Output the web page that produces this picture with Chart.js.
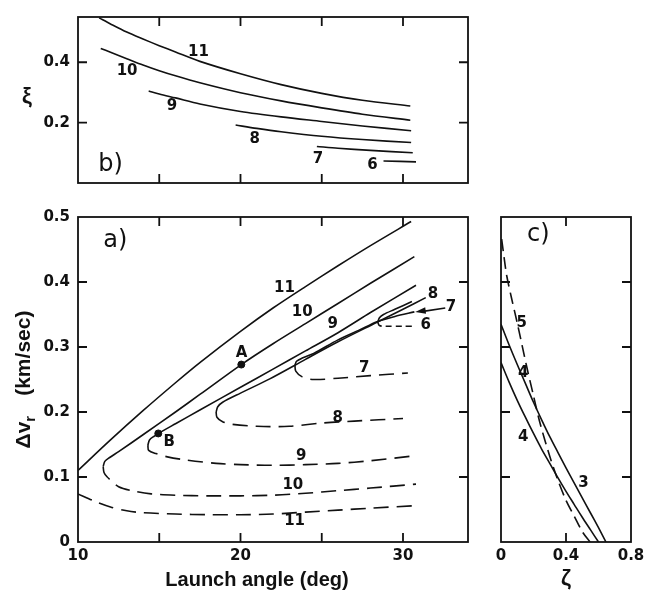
<!DOCTYPE html>
<html lang="en">
<head>
    <meta charset="UTF-8">
    <title>Launch angle contours</title>
    <script src="https://cdn.jsdelivr.net/npm/chart.js"></script>
    <style>
        body { margin: 0; background: #fff; }
        #wrap { position: relative; width: 657px; height: 596px; background: #fff; }
        #wrap canvas { position: absolute; }
    </style>
</head>
<body>
<div id="wrap">
    <canvas id="chartB" width="480" height="200" style="left:0;top:0;width:480px;height:200px"></canvas>
    <canvas id="chartA" width="480" height="396" style="left:0;top:200px;width:480px;height:396px"></canvas>
    <canvas id="chartC" width="177" height="396" style="left:480px;top:200px;width:177px;height:396px"></canvas>
</div>

<script>
    // axes / ticks
    const angleTicks = [10, 20, 30];
    const angleMarks = [15, 20, 25, 30];
    const dvTicks = [0, 0.1, 0.2, 0.3, 0.4, 0.5];
    const dvMarks = [0.1, 0.2, 0.3, 0.4];
    const xiTicks = [0.2, 0.4];
    const zetaTicks = [0, 0.4, 0.8];
    const zetaMarks = [0.4];

    // panel a) : [launch angle, dv_r]  solid = upper branch, dashed = lower branch
    const a11Solid = [[10,0.11],[12,0.157],[14,0.202],[16,0.245],[17.5,0.276],[20,0.324],[22,0.36],[24,0.393],[26,0.425],[28,0.456],[30.5,0.493]];
    const a11Dash  = [[10,0.074],[11,0.063],[12,0.054],[13,0.048],[14,0.045],[16,0.043],[18,0.042],[20,0.042],[22,0.043],[24,0.046],[26,0.049],[28,0.052],[30.8,0.056]];
    const a10Solid = [[11.55,0.116],[11.65,0.124],[11.95,0.13],[12.5,0.139],[14,0.165],[16,0.2],[17.5,0.227],[20.05,0.273],[22,0.305],[24,0.336],[26,0.367],[28,0.398],[30.7,0.439]];
    const a10Dash  = [[11.55,0.116],[11.6,0.107],[11.8,0.1],[12.5,0.085],[13.5,0.078],[14.5,0.074],[16,0.072],[18,0.071],[20,0.071],[22,0.072],[24,0.075],[26,0.079],[28,0.083],[30.8,0.089]];
    const a9Solid  = [[14.3,0.149],[14.4,0.157],[14.7,0.163],[14.94,0.167],[16,0.182],[17.5,0.203],[20,0.238],[22,0.266],[24,0.294],[26,0.322],[28,0.353],[30.8,0.395]];
    const a9Dash   = [[14.3,0.149],[14.35,0.141],[14.8,0.136],[15.5,0.131],[16.7,0.126],[18.5,0.121],[20,0.119],[22,0.118],[24,0.119],[26,0.121],[28,0.125],[30.5,0.132]];
    const a8Solid  = [[18.5,0.2],[18.6,0.208],[18.9,0.215],[20,0.229],[21.8,0.251],[24,0.281],[26,0.308],[28.4,0.338],[30,0.358],[31.4,0.376]];
    const a8Dash   = [[18.5,0.2],[18.55,0.192],[18.9,0.185],[19.5,0.181],[21,0.178],[23,0.178],[25,0.183],[27,0.186],[30,0.19]];
    const a7Solid  = [[23.35,0.272],[23.45,0.278],[23.8,0.283],[24.5,0.29],[26,0.311],[27.3,0.326],[28.4,0.339],[29.5,0.347],[30.7,0.354]];
    const a7Dash   = [[23.35,0.272],[23.4,0.263],[23.8,0.254],[24.5,0.25],[26,0.252],[28,0.256],[30.3,0.26]];
    const a6Solid  = [[28.45,0.338],[28.55,0.345],[28.8,0.35],[29.5,0.358],[30.55,0.37]];
    const a6Dash   = [[28.45,0.338],[28.55,0.333],[28.9,0.332],[30,0.332],[30.75,0.332]];
    const pointA = [[20.05,0.273]];
    const pointB = [[14.94,0.167]];

    // panel b) : [launch angle, xi]
    const b11 = [[11.3,0.547],[12,0.527],[13,0.5],[14,0.477],[15,0.455],[16,0.434],[17.5,0.403],[20,0.362],[22.5,0.326],[25,0.297],[27.5,0.274],[30.45,0.255]];
    const b10 = [[11.4,0.446],[12,0.433],[13,0.412],[14,0.391],[15,0.372],[16,0.355],[17.5,0.332],[20,0.299],[22.5,0.272],[25,0.249],[27.5,0.228],[30.45,0.208]];
    const b9  = [[14.35,0.305],[15,0.295],[16,0.282],[17.5,0.262],[20,0.237],[22.5,0.219],[25,0.204],[27.5,0.189],[30.5,0.173]];
    const b8  = [[19.7,0.192],[21,0.181],[22.5,0.17],[25,0.155],[27.5,0.144],[30.5,0.134]];
    const b7  = [[24.7,0.121],[26,0.115],[28,0.108],[30.6,0.1]];
    const b6  = [[28.8,0.073],[30.8,0.07]];

    // panel c) : [zeta, dv_r]
    const c3Solid = [[0,0.335],[0.05,0.303],[0.1,0.273],[0.15,0.244],[0.2,0.215],[0.25,0.188],[0.3,0.162],[0.35,0.138],[0.4,0.114],[0.45,0.091],[0.5,0.068],[0.55,0.045],[0.6,0.022],[0.646,0]];
    const c4Solid = [[0,0.276],[0.05,0.246],[0.1,0.218],[0.15,0.192],[0.2,0.167],[0.25,0.143],[0.3,0.121],[0.35,0.099],[0.4,0.078],[0.45,0.058],[0.5,0.038],[0.55,0.019],[0.6,0]];
    const c5Dash  = [[0.004,0.466],[0.02,0.436],[0.035,0.41],[0.065,0.375],[0.1,0.337],[0.158,0.27],[0.2,0.225],[0.24,0.183],[0.3,0.132],[0.343,0.1],[0.4,0.064],[0.45,0.04],[0.5,0.016],[0.548,0]];

    // curve labels (placed in data units)
    const labelsA = [
        ['11', 22.7, 0.391], ['10', 23.8, 0.353], ['9', 25.67, 0.335],
        ['8', 31.85, 0.382], ['7', 32.95, 0.362], ['6', 31.4, 0.334],
        ['7', 27.61, 0.268], ['8', 25.98, 0.191], ['9', 23.73, 0.132],
        ['10', 23.22, 0.088], ['11', 23.33, 0.032],
        ['A', 20.06, 0.29], ['B', 15.61, 0.154]
    ];
    const labelsB = [
        ['11', 17.41, 0.434], ['10', 13.02, 0.372], ['9', 15.78, 0.254],
        ['8', 20.88, 0.145], ['7', 24.76, 0.078], ['6', 28.12, 0.058]
    ];
    const labelsC = [
        ['5', 0.127, 0.336], ['4', 0.137, 0.26], ['4', 0.137, 0.162], ['3', 0.507, 0.09]
    ];
    const arrow7 = [[32.6, 0.36], [30.75, 0.354]];

    const ink = '#111';
    const tickFont = { family: 'DejaVu Sans', size: 15, weight: 'bold' };
    const curveFont = 'bold 15px "DejaVu Sans"';
    const panelFont = '24px "DejaVu Sans"';
    const titleFont = 'bold 20px "Liberation Sans"';

    const pts = arr => arr.map(p => ({ x: p[0], y: p[1] }));
    const curve = (arr, dash) => ({
        data: pts(arr),
        borderColor: ink,
        borderWidth: 1.6,
        borderDash: dash || [],
        pointRadius: 0,
        tension: 0.3,
        fill: false
    });
    const dot = arr => ({
        data: pts(arr),
        showLine: false,
        pointRadius: 3.5,
        pointBackgroundColor: ink,
        pointBorderColor: ink
    });
    const fmt = v => v === 0 ? '0' : v.toFixed(1);

    // frame, inward tick marks, labels, titles
    function makeFrame(cfg) {
        return {
            id: 'frame',
            afterDatasetsDraw(chart) {
                const { ctx, chartArea: a } = chart;
                const xs = chart.scales.x, ys = chart.scales.y;
                ctx.save();
                ctx.strokeStyle = ink;
                ctx.lineWidth = 1.8;
                ctx.strokeRect(a.left, a.top, a.right - a.left, a.bottom - a.top);
                ctx.beginPath();
                cfg.xMarks.forEach(v => {
                    const p = xs.getPixelForValue(v);
                    ctx.moveTo(p, a.top); ctx.lineTo(p, a.top + 9);
                    ctx.moveTo(p, a.bottom); ctx.lineTo(p, a.bottom - 9);
                });
                cfg.yMarks.forEach(v => {
                    const p = ys.getPixelForValue(v);
                    ctx.moveTo(a.left, p); ctx.lineTo(a.left + 9, p);
                    ctx.moveTo(a.right, p); ctx.lineTo(a.right - 9, p);
                });
                ctx.stroke();

                ctx.fillStyle = ink;
                ctx.textAlign = 'center';
                ctx.textBaseline = 'middle';
                ctx.font = curveFont;
                cfg.labels.forEach(l => ctx.fillText(l[0], xs.getPixelForValue(l[1]), ys.getPixelForValue(l[2])));

                ctx.font = panelFont;
                ctx.fillText(cfg.panel[0], xs.getPixelForValue(cfg.panel[1]), ys.getPixelForValue(cfg.panel[2]));

                if (cfg.draw) cfg.draw(ctx, a, xs, ys);
                ctx.restore();
            }
        };
    }

    const common = {
        responsive: false,
        animation: false,
        events: [],
        plugins: { legend: { display: false }, tooltip: { enabled: false } }
    };

    // ---- panel b
    new Chart(document.getElementById('chartB'), {
        type: 'line',
        data: { datasets: [curve(b11), curve(b10), curve(b9), curve(b8), curve(b7), curve(b6)] },
        options: {
            ...common,
            layout: { padding: { top: 6, right: 12, left: 0, bottom: 0 } },
            scales: {
                x: {
                    type: 'linear', min: 10, max: 34,
                    ticks: { display: false },
                    grid: { display: false, drawTicks: false }, border: { display: false },
                    afterFit: s => { s.height = 15; }
                },
                y: {
                    min: 0, max: 0.55,
                    afterBuildTicks: s => { s.ticks = xiTicks.map(v => ({ value: v })); },
                    ticks: { callback: fmt, font: tickFont, color: ink, padding: 8 },
                    grid: { display: false, drawTicks: false }, border: { display: false },
                    afterFit: s => { s.width = 78; }
                }
            }
        },
        plugins: [makeFrame({
            xMarks: angleMarks, yMarks: xiTicks, labels: labelsB, panel: ['b)', 12.0, 0.06],
            draw(ctx, a) {
                ctx.font = 'bold 22px "Liberation Sans"';
                ctx.fillText('ξ', a.left - 51, (a.top + a.bottom) / 2 - 3);
            }
        })]
    });

    // ---- panel a
    new Chart(document.getElementById('chartA'), {
        type: 'line',
        data: {
            datasets: [
                curve(a11Solid), curve(a11Dash, [15, 8]),
                curve(a10Solid), curve(a10Dash, [15, 8]),
                curve(a9Solid), curve(a9Dash, [15, 8]),
                curve(a8Solid), curve(a8Dash, [15, 8]),
                curve(a7Solid), curve(a7Dash, [15, 8]),
                curve(a6Solid), curve(a6Dash, [6, 4]),
                dot(pointA), dot(pointB)
            ]
        },
        options: {
            ...common,
            layout: { padding: { top: 17, right: 12, left: 0, bottom: 0 } },
            scales: {
                x: {
                    type: 'linear', min: 10, max: 34,
                    afterBuildTicks: s => { s.ticks = angleTicks.map(v => ({ value: v })); },
                    ticks: { callback: v => String(v), font: tickFont, color: ink, padding: 5, maxRotation: 0, autoSkip: false },
                    grid: { display: false, drawTicks: false }, border: { display: false },
                    afterFit: s => { s.height = 54; }
                },
                y: {
                    min: 0, max: 0.5,
                    afterBuildTicks: s => { s.ticks = dvTicks.map(v => ({ value: v })); },
                    ticks: { callback: fmt, font: tickFont, color: ink, padding: 8 },
                    grid: { display: false, drawTicks: false }, border: { display: false },
                    afterFit: s => { s.width = 78; }
                }
            }
        },
        plugins: [makeFrame({
            xMarks: angleMarks, yMarks: dvMarks, labels: labelsA, panel: ['a)', 12.3, 0.463],
            draw(ctx, a, xs, ys) {
                // arrow pointing at curve 7
                const x0 = xs.getPixelForValue(arrow7[0][0]), y0 = ys.getPixelForValue(arrow7[0][1]);
                const x1 = xs.getPixelForValue(arrow7[1][0]), y1 = ys.getPixelForValue(arrow7[1][1]);
                ctx.lineWidth = 1.6;
                ctx.beginPath(); ctx.moveTo(x0, y0); ctx.lineTo(x1 + 8, y1 - 0.5); ctx.stroke();
                const ang = Math.atan2(y1 - y0, x1 - x0);
                ctx.beginPath();
                ctx.moveTo(x1, y1);
                ctx.lineTo(x1 - 11 * Math.cos(ang - 0.3), y1 - 11 * Math.sin(ang - 0.3));
                ctx.lineTo(x1 - 11 * Math.cos(ang + 0.3), y1 - 11 * Math.sin(ang + 0.3));
                ctx.closePath(); ctx.fill();

                // axis titles
                ctx.font = titleFont;
                ctx.fillText('Launch angle (deg)', (a.left + a.right) / 2 - 16, a.bottom + 38);

                ctx.save();
                ctx.translate(a.left - 55, (a.top + a.bottom) / 2);
                ctx.rotate(-Math.PI / 2);
                ctx.textAlign = 'left';
                ctx.textBaseline = 'alphabetic';
                const big = 'bold 21px "Liberation Sans"', small = 'bold 15px "Liberation Sans"';
                ctx.font = big;
                const w1 = ctx.measureText('Δv').width;
                const w3 = ctx.measureText('(km/sec)').width;
                ctx.font = small;
                const w2 = ctx.measureText('r').width;
                const gap = 20;
                let sx = -(w1 + w2 + gap + w3) / 2;
                ctx.font = big;
                ctx.fillText('Δv', sx, 7);
                ctx.font = small;
                ctx.fillText('r', sx + w1, 12);
                ctx.font = big;
                ctx.fillText('(km/sec)', sx + w1 + w2 + gap, 7);
                ctx.restore();
            }
        })]
    });

    // ---- panel c
    new Chart(document.getElementById('chartC'), {
        type: 'line',
        data: { datasets: [curve(c3Solid), curve(c4Solid), curve(c5Dash, [12, 6])] },
        options: {
            ...common,
            layout: { padding: { top: 17, right: 26, left: 0, bottom: 0 } },
            scales: {
                x: {
                    type: 'linear', min: 0, max: 0.8,
                    afterBuildTicks: s => { s.ticks = zetaTicks.map(v => ({ value: v })); },
                    ticks: { callback: fmt, font: tickFont, color: ink, padding: 5, maxRotation: 0, autoSkip: false },
                    grid: { display: false, drawTicks: false }, border: { display: false },
                    afterFit: s => { s.height = 54; }
                },
                y: {
                    min: 0, max: 0.5,
                    ticks: { display: false },
                    grid: { display: false, drawTicks: false }, border: { display: false },
                    afterFit: s => { s.width = 21; }
                }
            }
        },
        plugins: [makeFrame({
            xMarks: zetaMarks, yMarks: dvMarks, labels: labelsC, panel: ['c)', 0.23, 0.472],
            draw(ctx, a) {
                ctx.font = 'bold 22px "Liberation Sans"';
                ctx.fillText('ζ', (a.left + a.right) / 2, a.bottom + 37);
            }
        })]
    });
</script>
</body>
</html>
